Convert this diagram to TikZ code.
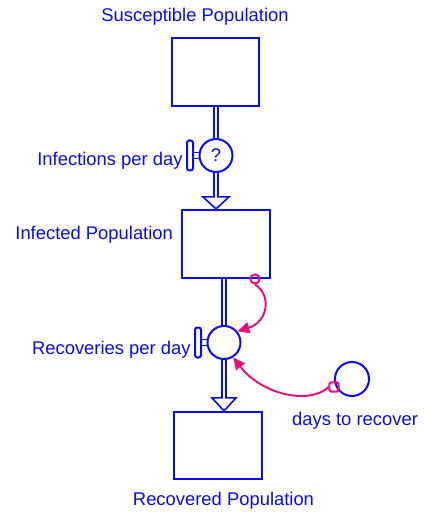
\documentclass[tikz,border=0pt]{standalone}
\usepackage{fontspec}
\setmainfont{Liberation Sans}
\usetikzlibrary{arrows.meta}
\definecolor{vblue}{RGB}{10,10,250}
\definecolor{vpink}{RGB}{240,10,120}
\begin{document}
\begin{tikzpicture}[x=0.5pt,y=-0.5pt,
  stock/.style={draw=vblue,line width=1.1pt,fill=white,rectangle,inner sep=0},
  valve/.style={draw=vblue,line width=1pt,circle,fill=white,minimum size=16.5pt,inner sep=0,text=vblue,font=\fontsize{9.2}{11}\selectfont},
  lbl/.style={text=vblue,font=\fontsize{9.2}{11}\selectfont,inner sep=0},
  pipe/.style={draw=vblue,line width=0.8pt},
  conn/.style={draw=vpink,line width=0.95pt,-{Triangle[length=6pt,width=5.5pt]}},
  tag/.style={draw=vpink,line width=1pt,inner sep=0,minimum size=4.6pt}]
\useasboundingbox (0,0) rectangle (424,512);

% stocks
\node[stock,minimum width=43.5pt,minimum height=34pt] (S) at (215.5,72) {};
\node[stock,minimum width=44pt,minimum height=34pt] (I) at (226,244) {};
\node[stock,minimum width=44pt,minimum height=33.5pt] (R) at (218,445.5) {};

% valves and auxiliary
\node[valve] (v1) at (216,155.5) {?};
\node[valve] (v2) at (224,342.5) {};
\node[valve,minimum size=17pt] (d) at (352,379) {};

% pipes into valves
\draw[pipe] ([xshift=-1pt]S.south -| v1.north) -- ([xshift=-1pt]v1.north)
            ([xshift=1pt]S.south -| v1.north) -- ([xshift=1pt]v1.north);
\draw[pipe] ([xshift=-1pt]I.south -| v2.north) -- ([xshift=-1pt]v2.north)
            ([xshift=1pt]I.south -| v2.north) -- ([xshift=1pt]v2.north);

% flow arrowheads
\coordinate (t1) at (v1.south |- I.north);
\coordinate (t2) at (v2.south |- R.north);
\draw[pipe,fill=white,line join=miter]
  ([xshift=-1pt]v1.south) -- ([shift={(-2,-12)}]t1) -- ([shift={(-13,-12)}]t1) -- (t1)
  -- ([shift={(13,-12)}]t1) -- ([shift={(2,-12)}]t1) -- ([xshift=1pt]v1.south);
\draw[pipe,fill=white,line join=miter]
  ([xshift=-1pt]v2.south) -- ([shift={(-2,-13)}]t2) -- ([shift={(-12,-13)}]t2) -- (t2)
  -- ([shift={(12,-13)}]t2) -- ([shift={(2,-13)}]t2) -- ([xshift=1pt]v2.south);

% valve handles
\foreach \v in {v1,v2}{
  \draw[pipe,line width=1pt,fill=white,rounded corners=1.2pt]
    ([shift={(-29,-15)}]\v.center) rectangle ([shift={(-23,15)}]\v.center);
  \draw[pipe] ([shift={(-23,-3)}]\v.center) -- ([shift={(-16.3,-3)}]\v.center)
              ([shift={(-23,3)}]\v.center) -- ([shift={(-16.3,3)}]\v.center);
}

% connectors
\node[tag,circle] (c1) at (255,279) {};
\node[tag,rectangle,rounded corners=0.7pt] (c2) at (334,387) {};
\draw[conn] (c1.south) .. controls (272,295) and (268,322) .. (v2.40);
\draw[conn] (c2.west) .. controls (310,405) and (262,395) .. (v2.-58);

% labels
\node[lbl,anchor=base] (lS) at (195,22) {Susceptible Population};
\node[lbl,anchor=base east] (lf1) at (183,166) {Infections per day};
\node[lbl,anchor=base west] (lI) at (15,240) {Infected Population};
\node[lbl,anchor=base east] (lf2) at (191,354) {Recoveries per day};
\node[lbl,anchor=base] (ld) at (355,425) {days to recover};
\node[lbl,anchor=base] (lR) at (223.5,505) {Recovered Population};
\end{tikzpicture}
\end{document}
